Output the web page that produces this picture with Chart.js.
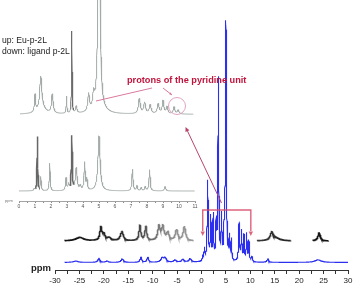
<!DOCTYPE html>
<html>
<head>
<meta charset="utf-8">
<script src="https://cdn.jsdelivr.net/npm/chart.js@4"></script>
<style>
  body { margin: 0; background: #fff; }
  #wrap { position: relative; width: 354px; height: 286px; overflow: hidden; font-family: "Liberation Sans", Arial, sans-serif; }
  .cv { position: absolute; left: 0; top: 0; }
  .lbl { position: absolute; white-space: nowrap; }
</style>
</head>
<body>
<div id="wrap">
  <div class="cv" style="width:200px;height:215px"><canvas id="gray"></canvas></div>
  <div class="cv" style="width:354px;height:286px"><canvas id="main"></canvas></div>
  <div class="lbl" style="left:2px;top:35px;font-size:8.6px;line-height:11px;color:#222">up: Eu-p-2L<br>down: ligand p-2L</div>
  <div class="lbl" style="left:127px;top:75px;font-size:9.2px;line-height:10px;font-weight:bold;color:#c0143c">protons of the pyridine unit</div>
  <div class="lbl" style="left:31px;top:263px;font-size:9.5px;line-height:10px;font-weight:bold;color:#222">ppm</div>
  <div class="lbl" style="left:5px;top:198px;font-size:4px;line-height:5px;color:#777">ppm</div>
</div>
<script>
// axis ranges (ppm)
var mainRange = [-30, 30];
var ligandRange = [0, 11];

// Eu-p-2L, full sweep (blue): shift, height (tallest = 100), half width
var bluePpm    = [-25.7, -21.0, -19.3, -16.2, -12.4, -11.0, -8.0, -7.4, -5.4, -3.8, -2.3, 0.25, 0.6, 1.27, 1.9, 2.4, 3.0, 3.45, 4.1, 4.7, 5.0, 5.7, 6.1, 7.7, 8.2, 8.7, 9.25, 9.7, 10.3, 13.6, 23.9];
var blueHeight = [0.6, 1.7, 0.6, 1.5, 2.2, 2.2, 1.9, 1.7, 1.0, 1.3, 1.5, 2.2, 5, 34, 18, 19, 15, 77, 18, 19, 100, 9.5, 8.7, 16, 12.5, 10.8, 11.7, 8.7, 2.3, 1.5, 1.1];
var blueWidth  = [0.6, 0.25, 0.3, 0.3, 0.2, 0.2, 0.35, 0.3, 0.3, 0.3, 0.3, 0.1, 0.1, 0.12, 0.1, 0.1, 0.1, 0.1, 0.1, 0.1, 0.1, 0.1, 0.1, 0.12, 0.1, 0.1, 0.1, 0.1, 0.15, 0.2, 0.8];

// Eu-p-2L, paramagnetic regions enlarged (black)
var blackPpm    = [-24.9, -20.6, -20.0, -18.9, -16.3, -12.6, -11.4, -8.7, -7.9, -6.9, -5.1, -3.5, 14.4, 15.2, 24.1];
var blackHeight = [3.5, 12.7, 6, 3, 9.3, 15, 14.3, 14, 13.5, 8, 11, 14.3, 7.5, 3, 8];
var blackWidth  = [1.0, 0.25, 0.3, 0.5, 0.35, 0.22, 0.22, 0.3, 0.3, 0.3, 0.3, 0.3, 0.35, 1.0, 0.3];
var blackRanges = [[-28, -1.7], [11.4, 18.3], [22.8, 26]];

// up: Eu-p-2L, 0-11 ppm (grey)
var euPpm    = [1.0, 1.36, 1.4, 2.08, 2.97, 3.3, 3.58, 4.35, 4.66, 5.0, 5.0, 7.52, 7.85, 8.2, 8.7, 9.0, 9.25, 9.69, 9.95];
var euHeight = [17, 30, 8, 19, 17, 82, 7, 17, 14, 400, 6, 15, 11, 9, 10, 13, 7, 7, 4];
var euWidth  = [0.04, 0.07, 0.25, 0.06, 0.025, 0.02, 0.05, 0.06, 0.06, 0.05, 0.4, 0.07, 0.07, 0.07, 0.07, 0.06, 0.06, 0.06, 0.06];

// down: ligand p-2L, 0-11 ppm (grey)
var ligPpm    = [0.95, 1.15, 1.36, 1.92, 2.94, 3.1, 3.3, 3.58, 3.83, 4.1, 4.24, 5.0, 7.09, 7.37, 7.64, 7.89, 8.16, 9.13];
var ligHeight = [2, 54, 13.5, 27.5, 12.5, 6, 54, 22.5, 4.3, 27.5, 11, 55, 21.5, 5, 3.3, 4.3, 21, 4.3];
var ligWidth  = [0.03, 0.025, 0.03, 0.03, 0.04, 0.04, 0.03, 0.06, 0.05, 0.04, 0.04, 0.08, 0.04, 0.04, 0.04, 0.04, 0.04, 0.05];
var darkPeaks = [1.15, 3.3];

function spectrum(ppm, h, w, ranges, step) {
  var pts = [];
  var lo = ranges[0][0], hi = ranges[ranges.length - 1][1];
  for (var x = lo; x <= hi + 1e-9; x += step) {
    var inside = false;
    for (var r = 0; r < ranges.length; r++) {
      if (x >= ranges[r][0] - 1e-9 && x <= ranges[r][1] + 1e-9) inside = true;
    }
    if (!inside) { pts.push({x: x, y: null}); continue; }
    var y = 0;
    for (var i = 0; i < ppm.length; i++) {
      var d = (x - ppm[i]) / w[i];
      y += h[i] / (1 + d * d);
    }
    pts.push({x: x, y: y});
  }
  return pts;
}

function noPad(height) {
  return function(s) { s.paddingLeft = 0; s.paddingRight = 0; s.height = height; };
}

function nearDark(x) {
  for (var i = 0; i < darkPeaks.length; i++) if (Math.abs(x - darkPeaks[i]) < 0.12) return true;
  return false;
}

var FONT = '"Liberation Sans", Arial, sans-serif';

// grey panel
new Chart(document.getElementById('gray'), {
  type: 'line',
  data: {
    datasets: [
      {
        data: spectrum(euPpm, euHeight, euWidth, [[0.06, 10.9]], 0.01),
        yAxisID: 'yU', borderColor: '#a3aca8', borderWidth: 1, pointRadius: 0,
        segment: {
          borderColor: function(c) { return Math.abs(c.p0.parsed.x - 3.3) < 0.1 ? '#6a6a6a' : undefined; }
        }
      },
      {
        data: spectrum(ligPpm, ligHeight, ligWidth, [ligandRange], 0.01),
        yAxisID: 'yL', borderColor: '#a3aca8', borderWidth: 1, pointRadius: 0,
        segment: {
          borderColor: function(c) { return nearDark(c.p0.parsed.x) ? '#666' : undefined; },
          borderWidth: function(c) { return nearDark(c.p0.parsed.x) ? 1.5 : undefined; }
        }
      }
    ]
  },
  options: {
    responsive: true, maintainAspectRatio: false, animation: false, events: [],
    layout: { padding: { left: 19, right: 5, top: 0, bottom: 0 } },
    plugins: { legend: { display: false }, tooltip: { enabled: false } },
    scales: {
      x: {
        type: 'linear', min: ligandRange[0], max: ligandRange[1], afterFit: noPad(14),
        border: { color: '#8c8c8c', width: 0.8 },
        grid: { drawOnChartArea: false, tickLength: 2, color: '#8c8c8c' },
        ticks: {
          stepSize: 0.5, autoSkip: false, maxRotation: 0, padding: 1, color: '#555',
          font: { size: 5, family: FONT },
          callback: function(v) { return Number.isInteger(v) ? v : ''; }
        }
      },
      yU: { display: false, min: -86.7, max: 114.3 },
      yL: { display: false, min: -10, max: 191 }
    }
  }
});

// arrows, circle and bracket
var notes = {
  id: 'notes',
  afterDraw: function(chart) {
    var ctx = chart.ctx, xs = chart.scales.x;
    function head(x0, y0, x1, y1, size, color) {
      var a = Math.atan2(y1 - y0, x1 - x0);
      ctx.fillStyle = color;
      ctx.beginPath();
      ctx.moveTo(x1, y1);
      ctx.lineTo(x1 - size * Math.cos(a - 0.45), y1 - size * Math.sin(a - 0.45));
      ctx.lineTo(x1 - size * Math.cos(a + 0.45), y1 - size * Math.sin(a + 0.45));
      ctx.closePath();
      ctx.fill();
    }
    function line(x0, y0, x1, y1, color, width) {
      ctx.strokeStyle = color; ctx.lineWidth = width;
      ctx.beginPath(); ctx.moveTo(x0, y0); ctx.lineTo(x1, y1); ctx.stroke();
    }
    ctx.save();
    line(152, 88, 96, 101, '#d9799e', 1);
    line(163, 88, 172, 95, '#d9799e', 1);
    head(163, 88, 172, 95, 3, '#d9799e');
    ctx.strokeStyle = '#e2a3c0'; ctx.lineWidth = 1;
    ctx.beginPath(); ctx.arc(177, 106, 8.5, 0, Math.PI * 2); ctx.stroke();
    line(221.5, 203, 187, 130, '#b8446e', 1);
    head(221.5, 203, 185.5, 127, 5, '#b8446e');
    // bracket over the diamagnetic region
    var bx0 = xs.getPixelForValue(0.25), bx1 = xs.getPixelForValue(10.1);
    var col = 'rgba(214,70,100,0.85)';
    ctx.strokeStyle = col; ctx.lineWidth = 1.4;
    ctx.beginPath();
    ctx.moveTo(bx0, 231); ctx.lineTo(bx0, 210); ctx.lineTo(bx1, 210); ctx.lineTo(bx1, 231);
    ctx.stroke();
    head(bx0, 210, bx0, 236, 5, col);
    head(bx1, 210, bx1, 236, 5, col);
    ctx.restore();
  }
};

function blackColor(c) {
  var ch = c.chart;
  if (!ch.chartArea) return '#222';
  var xs = ch.scales.x;
  var x0 = xs.getPixelForValue(-28), x1 = xs.getPixelForValue(26);
  var g = ch.ctx.createLinearGradient(x0, 0, x1, 0);
  g.addColorStop(0, '#111');
  g.addColorStop(0.25, '#333');
  g.addColorStop(0.38, '#8a8a8a');
  g.addColorStop(0.48, '#9a9a9a');
  g.addColorStop(0.72, '#3a3a3a');
  g.addColorStop(1, '#111');
  return g;
}

// main spectrum
new Chart(document.getElementById('main'), {
  type: 'line',
  data: {
    datasets: [
      {
        data: spectrum(bluePpm, blueHeight, blueWidth, [[mainRange[0] + 2, mainRange[1]]], 0.01),
        yAxisID: 'y', borderColor: '#2c30ee', borderWidth: 1.1, pointRadius: 0
      },
      {
        data: spectrum(blackPpm, blackHeight, blackWidth, blackRanges, 0.02),
        yAxisID: 'y2', borderColor: blackColor, borderWidth: 1.6, pointRadius: 0, spanGaps: false
      }
    ]
  },
  options: {
    responsive: true, maintainAspectRatio: false, animation: false, events: [],
    layout: { padding: { left: 55, right: 6, top: 0, bottom: 0 } },
    plugins: { legend: { display: false }, tooltip: { enabled: false } },
    scales: {
      x: {
        type: 'linear', min: mainRange[0], max: mainRange[1], afterFit: noPad(16),
        border: { color: '#333', width: 1 },
        grid: { drawOnChartArea: false, tickLength: 4, color: '#333' },
        ticks: {
          stepSize: 2.5, autoSkip: false, maxRotation: 0, padding: 2, color: '#222',
          font: { size: 8, family: FONT },
          callback: function(v) { return v % 5 === 0 ? v : ''; }
        }
      },
      y: { display: false, min: -3.2, max: 111.5 },
      y2: { display: false, min: -29, max: 241 }
    }
  },
  plugins: [notes]
});
</script>
</body>
</html>
